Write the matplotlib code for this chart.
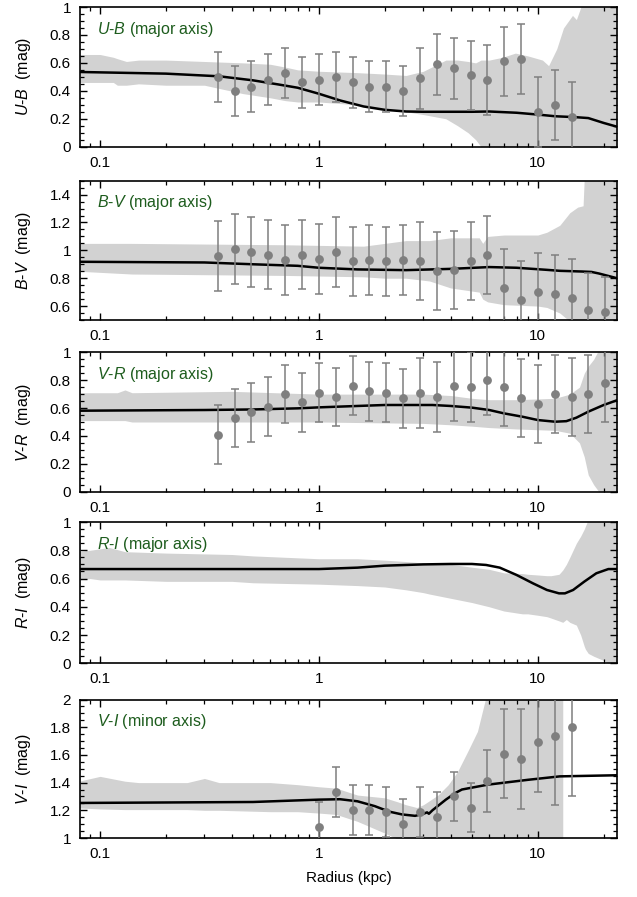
import matplotlib
matplotlib.use("Agg")
import matplotlib.pyplot as plt
from matplotlib.ticker import AutoMinorLocator, FuncFormatter, LogLocator, NullFormatter

plt.rcParams["font.family"] = ["Liberation Sans", "DejaVu Sans"]
plt.rcParams["mathtext.fontset"] = "custom"
plt.rcParams["mathtext.rm"] = "Liberation Sans"
plt.rcParams["mathtext.it"] = "Liberation Sans:italic"

GREEN = "#1d5c1d"
BAND = "#d2d2d2"
PT = "#7f7f7f"

# measured radii of the annular bins (kpc)
R_PTS = [0.345, 0.412, 0.49, 0.586, 0.70, 0.836, 1.0, 1.194, 1.425, 1.70, 2.03,
         2.43, 2.90, 3.46, 4.13, 4.93, 5.89, 7.03, 8.39, 10.0, 11.95, 14.3, 17.0, 20.3]

# ---- U-B (major axis)
ub_pts = [0.50, 0.40, 0.43, 0.48, 0.53, 0.46, 0.48, 0.50, 0.46, 0.43, 0.43,
          0.40, 0.49, 0.59, 0.56, 0.51, 0.48, 0.61, 0.63, 0.25, 0.30, 0.21]
ub_err = [0.18, 0.18, 0.18, 0.18, 0.18, 0.18, 0.18, 0.18, 0.18, 0.18, 0.18,
          0.18, 0.22, 0.22, 0.22, 0.25, 0.25, 0.25, 0.25, 0.25, 0.25, 0.25]
ub_cr = [0.08, 0.2, 0.35, 0.5, 0.65, 0.8, 1.0, 1.25, 1.6, 2.0, 2.5, 3.0, 5.0,
         6.0, 8.0, 10.0, 12.0, 15.0, 17.0, 20.0, 23.0]
ub_cv = [0.535, 0.523, 0.504, 0.475, 0.446, 0.422, 0.379, 0.331, 0.288, 0.264,
         0.252, 0.25, 0.25, 0.252, 0.243, 0.23, 0.218, 0.211, 0.205, 0.17, 0.143]
ub_br = [0.08, 0.1, 0.115, 0.12, 0.132, 0.15, 0.2, 0.3, 0.45, 0.6, 0.7, 0.8, 1.0,
         1.5, 2.0, 2.5, 3.0, 3.8, 4.3, 4.8, 5.2, 5.5, 6.0, 6.9, 7.9, 9.0, 10.5,
         11.2, 12.2, 13.1, 14.4, 15.0, 15.9, 23.0]
ub_hi = [0.66, 0.66, 0.64, 0.63, 0.61, 0.62, 0.62, 0.61, 0.60, 0.59, 0.57, 0.55,
         0.54, 0.53, 0.52, 0.51, 0.54, 0.62, 0.62, 0.61, 0.60, 0.62, 0.62, 0.64,
         0.67, 0.65, 0.62, 0.58, 0.70, 0.85, 0.94, 0.91, 1.02, 1.02]
ub_lo = [0.46, 0.46, 0.46, 0.44, 0.44, 0.45, 0.44, 0.44, 0.38, 0.35, 0.33, 0.32,
         0.32, 0.30, 0.27, 0.25, 0.23, 0.20, 0.15, 0.10, 0.05, 0.0, 0.0, 0.0,
         0.0, 0.0, 0.0, 0.0, 0.0, 0.0, 0.0, 0.0, 0.0, 0.0]

# ---- B-V (major axis)
bv_pts = [0.96, 1.01, 0.99, 0.97, 0.93, 0.97, 0.94, 0.99, 0.92, 0.93, 0.92,
          0.93, 0.92, 0.85, 0.86, 0.92, 0.97, 0.73, 0.64, 0.70, 0.69, 0.66,
          0.57, 0.56]
bv_err = [0.25, 0.25, 0.25, 0.25, 0.25, 0.25, 0.25, 0.25, 0.25, 0.25, 0.25,
          0.25, 0.28, 0.28, 0.28, 0.28, 0.28, 0.28, 0.28, 0.28, 0.28, 0.28,
          0.27, 0.25]
bv_cr = [0.08, 0.3, 0.5, 0.8, 1.0, 1.5, 2.5, 4.0, 6.0, 8.0, 11.0, 12.6, 16.0,
         17.6, 19.0, 23.0]
bv_cv = [0.918, 0.913, 0.90, 0.889, 0.875, 0.863, 0.858, 0.867, 0.88, 0.875,
         0.86, 0.853, 0.848, 0.845, 0.834, 0.80]
bv_br = [0.08, 0.14, 0.7, 1.6, 2.0, 2.5, 3.2, 4.0, 5.4, 5.6, 5.9, 7.0, 10.0,
         11.0, 12.6, 14.0, 15.2, 16.1, 16.3, 23.0]
bv_hi = [1.05, 1.05, 1.04, 1.03, 1.05, 1.07, 1.07, 1.09, 1.09, 1.05, 1.10, 1.11,
         1.11, 1.13, 1.18, 1.27, 1.31, 1.32, 1.52, 1.52]
bv_lo = [0.85, 0.83, 0.82, 0.81, 0.80, 0.80, 0.78, 0.73, 0.70, 0.65, 0.63, 0.61,
         0.60, 0.59, 0.55, 0.49, 0.49, 0.49, 0.49, 0.49]

# ---- V-R (major axis)
vr_pts = [0.41, 0.53, 0.57, 0.61, 0.70, 0.64, 0.71, 0.68, 0.76, 0.72, 0.71,
          0.67, 0.71, 0.68, 0.76, 0.75, 0.80, 0.75, 0.67, 0.63, 0.70, 0.68,
          0.70, 0.78]
vr_err = [0.21, 0.21, 0.21, 0.21, 0.21, 0.21, 0.21, 0.21, 0.21, 0.21, 0.21,
          0.21, 0.25, 0.25, 0.25, 0.25, 0.25, 0.28, 0.28, 0.28, 0.28, 0.28,
          0.28, 0.28]
vr_cr = [0.08, 0.3, 0.5, 0.8, 1.0, 1.5, 2.0, 3.3, 4.0, 5.0, 6.0, 7.0, 8.5, 10.0,
         12.0, 13.5, 15.0, 17.0, 20.0, 23.0]
vr_cv = [0.581, 0.586, 0.59, 0.598, 0.605, 0.615, 0.622, 0.622, 0.615, 0.603,
         0.586, 0.562, 0.538, 0.514, 0.502, 0.506, 0.531, 0.574, 0.622, 0.656]
vr_br = [0.08, 0.12, 0.13, 0.14, 0.4, 1.0, 3.0, 4.0, 5.0, 6.0, 8.0, 12.0, 14.0,
         15.5, 16.3, 17.0, 18.0, 19.0, 23.0]
vr_hi = [0.71, 0.71, 0.73, 0.71, 0.72, 0.70, 0.70, 0.69, 0.67, 0.66, 0.66, 0.67,
         0.70, 0.75, 0.85, 0.90, 0.95, 1.02, 1.02]
vr_lo = [0.51, 0.51, 0.51, 0.50, 0.50, 0.50, 0.49, 0.48, 0.47, 0.46, 0.45, 0.44,
         0.42, 0.35, 0.25, 0.12, 0.05, 0.0, 0.0]

# ---- R-I (major axis)
ri_cr = [0.08, 1.0, 1.5, 2.0, 3.0, 4.0, 5.0, 5.8, 6.7, 8.0, 9.5, 11.0, 12.5,
         13.3, 14.5, 16.3, 18.5, 21.0, 23.0]
ri_cv = [0.667, 0.667, 0.677, 0.691, 0.70, 0.703, 0.703, 0.696, 0.677, 0.625,
         0.566, 0.519, 0.495, 0.495, 0.519, 0.578, 0.637, 0.667, 0.667]
ri_br = [0.08, 0.09, 0.1, 0.11, 0.13, 0.2, 0.4, 0.5, 1.0, 1.5, 2.0, 2.5, 3.0,
         3.2, 4.0, 5.0, 6.0, 7.0, 8.5, 9.0, 10.0, 11.0, 11.5, 12.5, 13.0, 13.5,
         14.0, 15.0, 15.7, 16.3, 16.5, 17.0, 18.0, 20.0, 21.0, 23.0]
ri_hi = [0.79, 0.80, 0.81, 0.82, 0.79, 0.78, 0.77, 0.76, 0.74, 0.74, 0.73, 0.72,
         0.71, 0.70, 0.70, 0.68, 0.665, 0.64, 0.635, 0.63, 0.625, 0.62, 0.62,
         0.63, 0.66, 0.70, 0.75, 0.85, 0.90, 0.95, 0.97, 1.02, 1.02, 1.02, 1.02,
         1.02]
ri_lo = [0.59, 0.60, 0.59, 0.59, 0.59, 0.58, 0.58, 0.57, 0.56, 0.55, 0.54, 0.52,
         0.50, 0.49, 0.46, 0.43, 0.40, 0.37, 0.35, 0.35, 0.34, 0.33, 0.32, 0.30,
         0.29, 0.31, 0.29, 0.27, 0.20, 0.12, 0.10, 0.07, 0.05, 0.02, 0.0, 0.0]

# ---- V-I (minor axis)
vi_pts = [1.08, 1.33, 1.20, 1.20, 1.19, 1.10, 1.19, 1.15, 1.30, 1.22, 1.41,
          1.61, 1.57, 1.69, 1.74, 1.80]
vi_err = [0.18, 0.18, 0.18, 0.18, 0.18, 0.18, 0.18, 0.18, 0.18, 0.18, 0.225,
          0.32, 0.36, 0.36, 0.50, 0.50]
vi_cr = [0.08, 0.5, 1.0, 1.25, 1.5, 1.8, 2.1, 2.4, 2.75, 3.0, 3.12, 3.18, 3.3,
         3.8, 4.2, 4.5, 5.9, 9.0, 12.6, 23.0]
vi_cv = [1.253, 1.26, 1.277, 1.28, 1.265, 1.23, 1.19, 1.17, 1.16, 1.175, 1.185,
         1.175, 1.20, 1.277, 1.325, 1.35, 1.385, 1.42, 1.445, 1.453]
vi_br = [0.08, 0.1, 0.13, 0.15, 0.25, 0.3, 0.35, 0.6, 0.8, 1.0, 1.2, 1.5, 2.0,
         2.3, 2.5, 2.8, 3.0, 3.5, 3.9, 4.3, 4.8, 5.3, 5.8, 13.0]
vi_hi = [1.41, 1.445, 1.41, 1.40, 1.40, 1.43, 1.40, 1.40, 1.385, 1.37, 1.36,
         1.31, 1.29, 1.26, 1.24, 1.22, 1.24, 1.31, 1.385, 1.48, 1.63, 1.77,
         2.02, 2.02]
vi_lo = [1.217, 1.21, 1.205, 1.205, 1.205, 1.20, 1.20, 1.19, 1.19, 1.18, 1.17,
         1.12, 1.035, 0.99, 0.99, 0.99, 0.99, 0.99, 0.99, 0.99, 0.99, 0.99,
         0.99, 0.99]

PANELS = [
    dict(name=r"$\mathit{U}$-$\mathit{B}$", tag="major axis", ylim=(0, 1),
         ticks=[0, 0.2, 0.4, 0.6, 0.8, 1], pts=ub_pts, err=ub_err, first=0,
         cr=ub_cr, cv=ub_cv, br=ub_br, hi=ub_hi, lo=ub_lo, box=(7, 146.7)),
    dict(name=r"$\mathit{B}$-$\mathit{V}$", tag="major axis", ylim=(0.5, 1.5),
         ticks=[0.6, 0.8, 1, 1.2, 1.4], pts=bv_pts, err=bv_err, first=0,
         cr=bv_cr, cv=bv_cv, br=bv_br, hi=bv_hi, lo=bv_lo, box=(180.7, 320)),
    dict(name=r"$\mathit{V}$-$\mathit{R}$", tag="major axis", ylim=(0, 1),
         ticks=[0, 0.2, 0.4, 0.6, 0.8, 1], pts=vr_pts, err=vr_err, first=0,
         cr=vr_cr, cv=vr_cv, br=vr_br, hi=vr_hi, lo=vr_lo, box=(352.3, 491.7)),
    dict(name=r"$\mathit{R}$-$\mathit{I}$", tag="major axis", ylim=(0, 1),
         ticks=[0, 0.2, 0.4, 0.6, 0.8, 1], pts=None, err=None, first=0,
         cr=ri_cr, cv=ri_cv, br=ri_br, hi=ri_hi, lo=ri_lo, box=(522, 663.3)),
    dict(name=r"$\mathit{V}$-$\mathit{I}$", tag="minor axis", ylim=(1, 2),
         ticks=[1, 1.2, 1.4, 1.6, 1.8, 2], pts=vi_pts, err=vi_err, first=6,
         cr=vi_cr, cv=vi_cv, br=vi_br, hi=vi_hi, lo=vi_lo, box=(699.5, 838)),
]

W, H = 637, 897
fig = plt.figure(figsize=(W / 100, H / 100), dpi=100)
L, R = 80, 617

for i, p in enumerate(PANELS):
    top, bot = p["box"]
    ax = fig.add_axes([L / W, (H - bot) / H, (R - L) / W, (bot - top) / H])
    ax.fill_between(p["br"], p["lo"], p["hi"], color=BAND, lw=0, zorder=1)
    ax.plot(p["cr"], p["cv"], color="black", lw=1.8, zorder=2)
    if p["pts"] is not None:
        r = R_PTS[p["first"]:p["first"] + len(p["pts"])]
        ax.errorbar(r, p["pts"], yerr=p["err"], fmt="o", color=PT, ms=5.3,
                    ecolor=PT, elinewidth=1.1, capsize=2.7, capthick=1.1,
                    zorder=3)
    ax.set_xscale("log")
    ax.set_xlim(0.081, 23)
    ax.set_ylim(*p["ylim"])
    ax.set_xticks([0.1, 1, 10])
    ax.set_xticklabels(["0.1", "1", "10"])
    ax.xaxis.set_minor_locator(LogLocator(base=10, subs=range(2, 10)))
    ax.xaxis.set_minor_formatter(NullFormatter())
    ax.set_yticks(p["ticks"])
    ax.yaxis.set_major_formatter(FuncFormatter(lambda v, _: f"{v:g}"))
    ax.yaxis.set_minor_locator(AutoMinorLocator(4))
    ax.tick_params(which="both", direction="in", top=True, right=True,
                   labelsize=11, pad=6.5)
    ax.tick_params(which="major", length=5, width=1)
    ax.tick_params(which="minor", length=3, width=0.9)
    for s in ax.spines.values():
        s.set_linewidth(1.2)
    ax.set_ylabel(p["name"] + "  (mag)", fontsize=11.5)
    ax.yaxis.set_label_coords(-0.088, 0.5)
    ax.text(0.031, 0.84, p["name"] + " (" + p["tag"] + ")", color=GREEN,
            fontsize=11.5, transform=ax.transAxes, va="center", zorder=4)
    if i == 4:
        ax.set_xlabel("Radius (kpc)", fontsize=11, labelpad=7)

fig.savefig("out.png", dpi=100)
